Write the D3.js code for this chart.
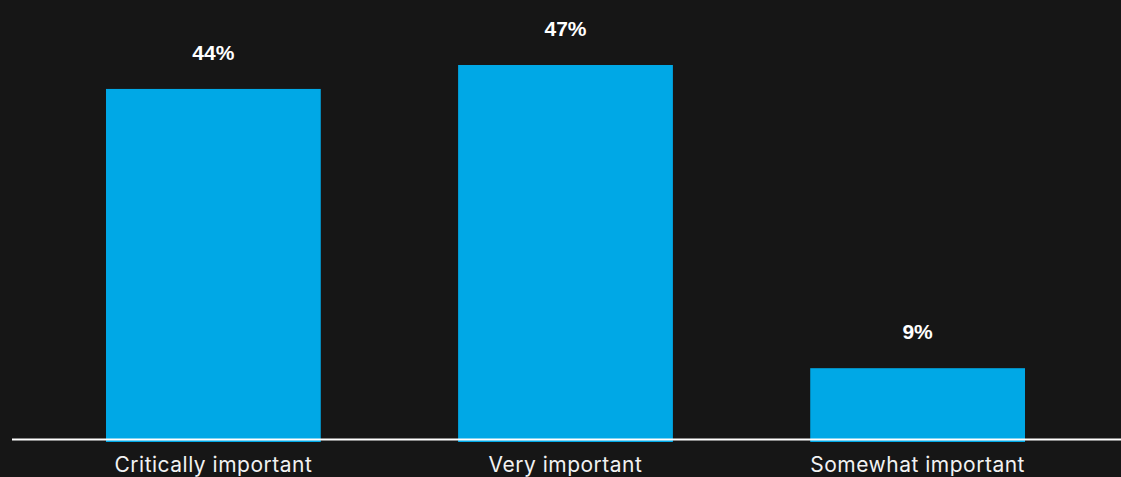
<!DOCTYPE html>
<html>
<head>
<meta charset="utf-8">
<script src="https://cdn.jsdelivr.net/npm/d3@7"></script>
<style>
  html, body { margin: 0; padding: 0; background: #161616; }
  svg { display: block; }
</style>
</head>
<body>
<svg id="chart" width="1121" height="477"></svg>
<script>
// Importance ratings, share of respondents
const categories = ["Critically important", "Very important", "Somewhat important"];
const shares = [44, 47, 9];

const W = 1121, H = 477;
const baseY = 440;

const svg = d3.select("#chart");

svg.append("rect").attr("width", W).attr("height", H).attr("fill", "#161616");

const x = d3.scaleBand()
  .domain(categories)
  .range([0, 1131])
  .paddingInner(0.39)
  .paddingOuter(0.301);

const y = d3.scaleLinear()
  .domain([0, 47])
  .range([baseY, 65]);

const rows = categories.map((c, i) => ({ cat: c, v: shares[i] }));

svg.append("g").selectAll("rect")
  .data(rows)
  .join("rect")
  .attr("x", d => x(d.cat))
  .attr("y", d => y(d.v))
  .attr("width", x.bandwidth())
  .attr("height", d => baseY + 2 - y(d.v))
  .attr("fill", "#00a8e6");

// baseline
svg.append("line")
  .attr("x1", 12).attr("x2", W)
  .attr("y1", baseY - 0.5).attr("y2", baseY - 0.5)
  .attr("stroke", "#ffffff").attr("stroke-width", 2);

// value labels
svg.append("g").selectAll("text")
  .data(rows)
  .join("text")
  .attr("x", d => x(d.cat) + x.bandwidth() / 2)
  .attr("y", d => y(d.v) - 29)
  .attr("text-anchor", "middle")
  .attr("fill", "#ffffff")
  .attr("font-family", "Liberation Sans, Arial, sans-serif")
  .attr("font-weight", "bold")
  .attr("font-size", 21)
  .text(d => d.v + "%");

// category labels
svg.append("g").selectAll("text")
  .data(rows)
  .join("text")
  .attr("x", d => x(d.cat) + x.bandwidth() / 2)
  .attr("y", 472)
  .attr("text-anchor", "middle")
  .attr("fill", "#f2f2f2")
  .attr("font-family", "Inter, sans-serif")
  .attr("font-size", 21)
  .attr("letter-spacing", 0.5)
  .text(d => d.cat);
</script>
</body>
</html>
